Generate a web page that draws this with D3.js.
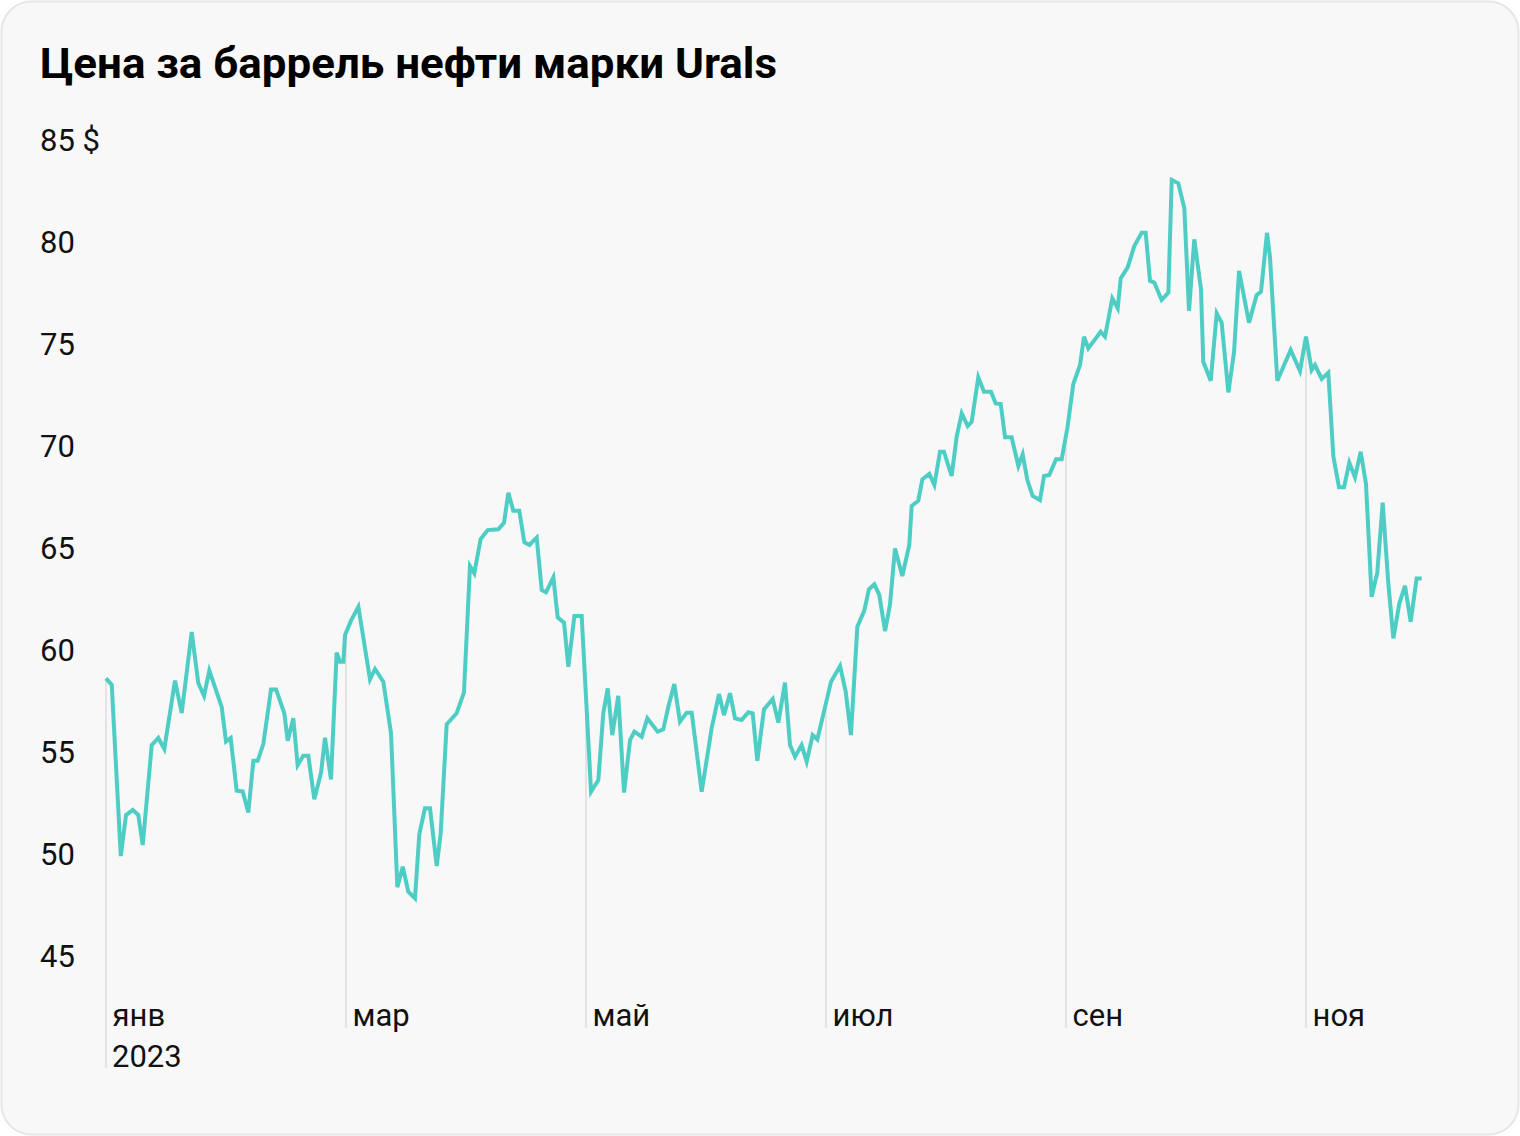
<!DOCTYPE html>
<html>
<head>
<meta charset="utf-8">
<script src="https://cdn.jsdelivr.net/npm/d3@7"></script>
<style>
  html, body { margin: 0; padding: 0; background: #ffffff; }
  svg { display: block; }
</style>
</head>
<body>
<svg id="chart" width="1520" height="1136"></svg>
<script>
// ---------- data ----------
const titleText = "Цена за баррель нефти марки Urals";
const yTickValues = [45, 50, 55, 60, 65, 70, 75, 80, 85];
const yUnit = "$";
const monthTickPositions = [0, 2, 4, 6, 8, 10];          // months since 1 Jan 2023
const monthTickLabels = ["янв", "мар", "май", "июл", "сен", "ноя"];
const yearLabel = "2023";

// time in months since 1 Jan 2023
const monthsSinceStart = [
  0, 0.048, 0.123, 0.167, 0.223, 0.269, 0.306, 0.381, 0.436, 0.486,
  0.575, 0.631, 0.714, 0.769, 0.817, 0.861, 0.964, 1.0, 1.039, 1.089,
  1.139, 1.186, 1.228, 1.264, 1.311, 1.375, 1.417, 1.486, 1.514, 1.561,
  1.597, 1.644, 1.686, 1.736, 1.792, 1.825, 1.875, 1.922, 1.95, 1.978,
  1.992, 2.042, 2.103, 2.2, 2.242, 2.311, 2.375, 2.428, 2.473, 2.519,
  2.575, 2.611, 2.658, 2.7, 2.756, 2.789, 2.839, 2.922, 2.983, 3.033,
  3.069, 3.122, 3.181, 3.269, 3.317, 3.353, 3.394, 3.444, 3.486, 3.528,
  3.589, 3.631, 3.667, 3.728, 3.764, 3.817, 3.853, 3.903, 3.964, 4.042,
  4.103, 4.144, 4.181, 4.219, 4.269, 4.317, 4.367, 4.403, 4.464, 4.511,
  4.597, 4.644, 4.686, 4.736, 4.783, 4.839, 4.881, 4.964, 5.047, 5.108,
  5.15, 5.2, 5.242, 5.297, 5.353, 5.389, 5.428, 5.483, 5.556, 5.603,
  5.658, 5.7, 5.742, 5.797, 5.839, 5.889, 5.928, 6.042, 6.117, 6.164,
  6.208, 6.261, 6.319, 6.358, 6.403, 6.444, 6.492, 6.533, 6.575, 6.636,
  6.694, 6.714, 6.769, 6.803, 6.861, 6.903, 6.95, 6.983, 7.047, 7.089,
  7.131, 7.181, 7.214, 7.269, 7.317, 7.375, 7.414, 7.456, 7.492, 7.547,
  7.603, 7.639, 7.678, 7.722, 7.783, 7.817, 7.861, 7.917, 7.964, 8.011,
  8.061, 8.117, 8.15, 8.186, 8.242, 8.289, 8.325, 8.386, 8.431, 8.456,
  8.514, 8.569, 8.631, 8.664, 8.7, 8.736, 8.797, 8.853, 8.881, 8.936,
  8.986, 9.025, 9.069, 9.125, 9.144, 9.206, 9.256, 9.297, 9.353, 9.4,
  9.442, 9.525, 9.589, 9.625, 9.675, 9.7, 9.761, 9.872, 9.95, 10.0,
  10.047, 10.075, 10.131, 10.186, 10.228, 10.275, 10.317, 10.361, 10.408, 10.456,
  10.5, 10.547, 10.594, 10.639, 10.686, 10.728, 10.778, 10.825, 10.872, 10.922,
  10.964
];

// Urals price, $ per barrel
const pricesUSD = [
  58.56, 58.24, 49.85, 51.86, 52.11, 51.86, 50.39, 55.29, 55.64, 55.10,
  58.45, 56.86, 60.83, 58.33, 57.70, 58.94, 57.16, 55.46, 55.64, 53.05,
  53.02, 51.98, 54.52, 54.52, 55.34, 58.02, 58.02, 56.85, 55.50, 56.60,
  54.31, 54.77, 54.77, 52.63, 53.94, 55.65, 53.61, 59.82, 59.38, 59.38,
  60.69, 61.39, 62.07, 58.51, 59.02, 58.40, 55.87, 48.32, 49.33, 48.10,
  47.78, 50.93, 52.19, 52.19, 49.36, 50.96, 56.31, 56.85, 57.86, 64.07,
  63.71, 65.39, 65.83, 65.87, 66.19, 67.66, 66.78, 66.78, 65.23, 65.10,
  65.46, 62.89, 62.78, 63.51, 61.55, 61.29, 59.13, 61.62, 61.62, 53.00,
  53.58, 56.85, 58.07, 55.78, 57.70, 52.96, 55.54, 55.95, 55.70, 56.60,
  55.95, 56.06, 57.17, 58.28, 56.44, 56.88, 56.88, 53.00, 56.11, 57.79,
  56.76, 57.83, 56.60, 56.52, 56.90, 56.85, 54.52, 57.04, 57.55, 56.39,
  58.35, 55.29, 54.72, 55.29, 54.48, 55.78, 55.57, 58.40, 59.17, 57.91,
  55.78, 61.09, 61.88, 62.93, 63.17, 62.65, 60.88, 62.16, 64.93, 63.58,
  65.10, 67.01, 67.27, 68.32, 68.58, 68.04, 69.67, 69.67, 68.48, 70.41,
  71.55, 70.93, 71.14, 73.32, 72.61, 72.61, 72.04, 72.01, 70.38, 70.38,
  68.97, 69.54, 68.28, 67.50, 67.30, 68.48, 68.53, 69.30, 69.30, 70.82,
  72.99, 73.92, 75.31, 74.74, 75.18, 75.55, 75.31, 77.19, 76.70, 78.17,
  78.71, 79.75, 80.41, 80.41, 78.05, 77.96, 77.11, 77.47, 82.99, 82.83,
  81.60, 76.58, 80.08, 77.63, 74.08, 73.15, 76.45, 76.00, 72.58, 74.53,
  78.53, 76.00, 77.35, 77.51, 80.40, 79.20, 73.15, 74.66, 73.63, 75.31,
  73.68, 73.92, 73.24, 73.55, 69.43, 67.93, 67.93, 69.13, 68.42, 69.67,
  68.09, 62.56, 63.74, 67.17, 63.22, 60.52, 62.24, 63.10, 61.34, 63.46,
  63.46
];

// ---------- drawing ----------
const W = 1520, H = 1136;
const svg = d3.select("#chart");
const fontFamily = "Roboto, 'Noto Sans', 'DejaVu Sans', sans-serif";
const labelSize = 31;

// card
svg.append("rect")
  .attr("x", 1.5).attr("y", 1.5)
  .attr("width", W - 3).attr("height", H - 3)
  .attr("rx", 30).attr("ry", 30)
  .attr("fill", "#f8f8f8")
  .attr("stroke", "#e6e6e6")
  .attr("stroke-width", 2);

// title
svg.append("text")
  .attr("x", 40).attr("y", 78)
  .attr("font-family", fontFamily)
  .attr("font-weight", 700)
  .attr("font-size", 43)
  .attr("fill", "#000")
  .attr("textLength", 737)
  .attr("lengthAdjust", "spacingAndGlyphs")
  .text(titleText);

const x = d3.scaleLinear().domain([0, 11]).range([106, 1426]);
const y = d3.scaleLinear().domain([45, 85]).range([955, 139]);

const data = monthsSinceStart.map((m, i) => ({ m, v: pricesUSD[i] }));

// y labels
const yAxis = d3.axisLeft(y)
  .tickValues(yTickValues)
  .tickSize(0)
  .tickFormat(d => d === 85 ? `${d} ${yUnit}` : `${d}`);
const yG = svg.append("g").attr("transform", "translate(40,0)").call(yAxis);
yG.select(".domain").remove();
yG.selectAll("text")
  .attr("x", 0)
  .attr("dy", "0.36em")
  .attr("text-anchor", "start")
  .attr("font-family", fontFamily)
  .attr("font-size", labelSize)
  .attr("fill", "#111");

// drop lines at month starts, from data value down to axis
const bis = d3.bisector(d => d.m).left;
function valueAt(m) {
  const i = bis(data, m);
  if (i <= 0) return data[0].v;
  if (i >= data.length) return data[data.length - 1].v;
  const a = data[i - 1], b = data[i];
  return a.v + (b.v - a.v) * (m - a.m) / (b.m - a.m);
}
const gridBottom = 1028;
svg.append("g").selectAll("line")
  .data(monthTickPositions)
  .join("line")
  .attr("x1", d => x(d)).attr("x2", d => x(d))
  .attr("y1", d => y(valueAt(d)))
  .attr("y2", (d, i) => i === 0 ? 1068 : gridBottom)
  .attr("stroke", "#dedede")
  .attr("stroke-width", 1.5);

// x labels
const xAxis = d3.axisBottom(x)
  .tickValues(monthTickPositions)
  .tickSize(0)
  .tickFormat((d, i) => monthTickLabels[i]);
const xG = svg.append("g").attr("transform", "translate(0,1000)").call(xAxis);
xG.select(".domain").remove();
xG.selectAll("text")
  .attr("x", 6)
  .attr("y", 26)
  .attr("dy", 0)
  .attr("text-anchor", "start")
  .attr("font-family", fontFamily)
  .attr("font-size", labelSize)
  .attr("fill", "#111");
svg.append("text")
  .attr("x", x(monthTickPositions[0]) + 6)
  .attr("y", 1067)
  .attr("font-family", fontFamily)
  .attr("font-size", labelSize)
  .attr("fill", "#111")
  .text(yearLabel);

// price line
svg.append("path")
  .datum(data)
  .attr("fill", "none")
  .attr("stroke", "#4ecdc4")
  .attr("stroke-width", 4)
  .attr("stroke-linejoin", "miter")
  .attr("d", d3.line().x(d => x(d.m)).y(d => y(d.v)));
</script>
</body>
</html>
